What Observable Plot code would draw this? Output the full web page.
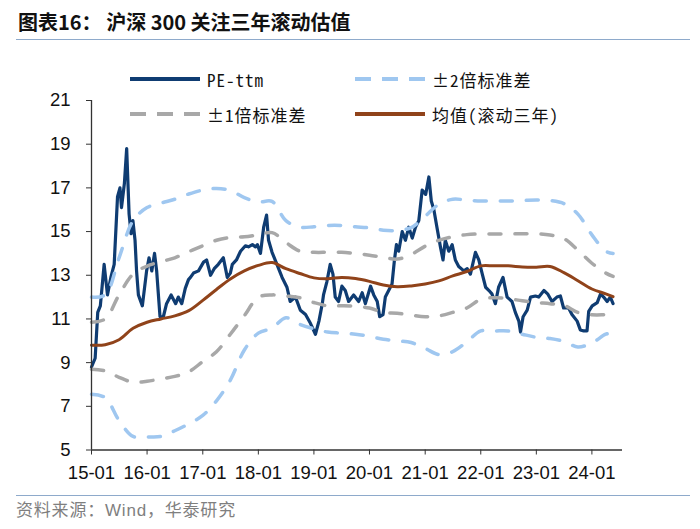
<!DOCTYPE html>
<html>
<head>
<meta charset="utf-8">
<script src="https://cdn.jsdelivr.net/npm/d3@7"></script>
<script src="https://cdn.jsdelivr.net/npm/@observablehq/plot@0.6"></script>
<style>
  body { margin: 0; background: #fff; }
  #wrap { position: relative; width: 700px; height: 529px; overflow: hidden; background: #fff; }
  #title { position: absolute; left: 18px; top: 7px; font-family: "Noto Sans CJK SC", sans-serif; font-weight: 700; font-size: 20px; line-height: 30px; color: #111; white-space: nowrap; }
  .rule { position: absolute; left: 16px; width: 674px; height: 0; border-top: 1.5px solid #8eaacb; }
  #chart { position: absolute; left: 0; top: 80px; }
  .leg { position: absolute; display: flex; align-items: center; height: 20px; white-space: nowrap;
         font-family: "Noto Sans Mono CJK SC", "DejaVu Sans Mono", "Noto Sans CJK SC", monospace; font-size: 17px; letter-spacing: 1px; color: #111; }
  .leg svg { margin-right: 7px; }
  #caption { position: absolute; left: 16px; top: 499px; font-family: "Liberation Sans", "Noto Sans CJK SC", sans-serif; font-size: 17px; line-height: 24px; color: #7f7f7f; letter-spacing: 0.8px; white-space: nowrap; }
</style>
</head>
<body>
<div id="wrap">
  <div id="title">图表16：&nbsp;沪深 300 关注三年滚动估值</div>
  <div class="rule" style="top:39px"></div>
  <div id="chart"></div>
  <div id="legend"></div>
  <div class="rule" style="top:495px"></div>
  <div id="caption">资料来源：Wind，华泰研究</div>
</div>
<script>
// ---------- data ----------
const peDates = ["2015-01-01","2015-01-25","2015-02-11","2015-02-28","2015-03-12","2015-03-25","2015-04-16","2015-05-08","2015-05-30","2015-06-21","2015-07-07","2015-07-17","2015-08-05","2015-08-20","2015-09-05","2015-09-18","2015-09-30","2015-10-14","2015-10-24","2015-11-05","2015-12-01","2015-12-29",
"2016-01-14","2016-02-01","2016-02-19","2016-03-04","2016-03-26","2016-04-17","2016-05-08","2016-06-07","2016-07-07","2016-07-24","2016-08-16","2016-09-08","2016-09-29","2016-10-12","2016-11-01","2016-12-04",
"2017-01-06","2017-01-26","2017-02-21","2017-03-17","2017-04-13","2017-05-16","2017-06-11","2017-07-01","2017-07-14","2017-08-10","2017-09-06","2017-10-08","2017-10-28","2017-11-23","2017-12-13","2017-12-26",
"2018-01-15","2018-02-05","2018-02-24","2018-03-09","2018-04-01","2018-05-03","2018-06-06","2018-07-08","2018-07-29","2018-09-02","2018-10-04","2018-11-07","2018-12-09",
"2019-01-11","2019-02-03","2019-02-25","2019-03-05","2019-03-27","2019-04-18","2019-05-06","2019-05-21","2019-06-12","2019-07-04","2019-07-26","2019-08-17","2019-09-19","2019-10-22","2019-11-14","2019-12-05",
"2020-01-08","2020-01-29","2020-02-21","2020-03-08","2020-03-30","2020-04-14","2020-05-06","2020-05-28","2020-06-13","2020-06-26","2020-07-11","2020-08-03","2020-08-24","2020-09-15","2020-10-08","2020-10-29","2020-11-20","2020-12-12",
"2021-01-04","2021-01-25","2021-02-10","2021-02-27","2021-03-19","2021-04-11","2021-04-28","2021-05-13","2021-06-05","2021-06-27","2021-07-18","2021-08-09","2021-09-12","2021-10-04","2021-10-25","2021-11-27","2021-12-19",
"2022-01-11","2022-02-02","2022-02-24","2022-03-15","2022-04-07","2022-04-28","2022-05-27","2022-06-23","2022-07-25","2022-08-16","2022-09-08","2022-09-19","2022-10-06","2022-11-02","2022-11-24","2022-12-26",
"2023-01-17","2023-02-20","2023-03-16","2023-04-14","2023-05-16","2023-06-08","2023-06-29","2023-08-01","2023-08-23","2023-09-26","2023-10-17","2023-11-09","2023-11-30","2023-12-11",
"2024-01-03","2024-02-05","2024-02-27","2024-03-18","2024-04-10","2024-05-01","2024-05-19"];
const peValues = [8.8,9.2,11.3,11.6,12.5,13.5,12.1,12.9,13.5,16.6,17.0,16.1,17.2,18.8,15.8,14.9,15.5,14.6,13.2,12.1,11.6,13.2,
13.8,13.2,14.0,13.2,11.1,11.1,11.7,12.1,11.7,12.0,11.7,12.4,12.8,12.9,13.1,13.2,
13.6,13.7,13.0,13.3,13.5,13.8,12.9,13.1,13.5,13.7,14.1,14.35,14.3,14.4,14.3,14.4,
14.0,15.2,15.75,14.6,14.05,13.5,12.9,12.45,11.8,12.0,11.4,11.2,10.8,
10.3,10.9,11.7,12.1,12.7,13.5,13.05,12.0,11.8,12.5,12.3,11.8,12.1,11.8,12.2,11.7,
12.5,12.1,11.8,11.1,11.2,12.0,12.3,12.6,13.7,14.4,14.1,15.0,14.6,15.2,14.7,15.2,15.5,16.9,
16.7,17.5,16.4,16.0,15.2,14.3,13.7,14.6,14.1,14.4,13.7,13.4,13.2,13.3,13.05,14.05,13.7,
13.05,12.45,12.3,12.15,11.7,12.45,12.9,12.0,11.8,11.3,10.9,10.4,11.1,11.4,12.0,12.05,
12.0,12.3,12.15,11.8,12.0,12.05,11.5,11.5,11.2,10.9,10.5,10.45,10.45,11.35,
11.6,11.75,12.15,12.0,11.8,12.0,11.7];

const bandDates = ["2015-01-01","2015-04-01","2015-07-01","2015-10-01",
"2016-01-01","2016-04-01","2016-07-01","2016-10-01",
"2017-01-01","2017-04-01","2017-07-01","2017-10-01",
"2018-01-01","2018-04-01","2018-07-01","2018-10-01",
"2019-01-01","2019-04-01","2019-07-01","2019-10-01",
"2020-01-01","2020-04-01","2020-07-01","2020-10-01",
"2021-01-01","2021-04-01","2021-07-01","2021-10-01",
"2022-01-01","2022-04-01","2022-07-01","2022-10-01",
"2023-01-01","2023-04-01","2023-07-01","2023-10-01",
"2024-01-01","2024-04-01","2024-05-19"];
const meanValues = [9.80,9.82,10.05,10.57,10.85,11.0,11.14,11.38,11.85,12.35,12.83,13.2,13.45,13.58,13.3,13.08,12.88,12.84,12.9,12.85,12.72,12.55,12.47,12.51,12.6,12.74,12.97,13.17,13.43,13.43,13.43,13.38,13.37,13.4,13.12,12.75,12.37,12.15,12.02];
const plus2Values = [12.0,12.1,13.8,15.5,16.1,16.3,16.48,16.72,16.9,16.97,16.88,16.55,16.35,16.38,15.5,15.2,15.22,15.28,15.28,15.22,15.17,15.06,15.05,15.18,15.7,16.25,16.48,16.44,16.4,16.4,16.4,16.42,16.45,16.42,16.28,15.8,14.85,14.1,14.0];
const plus1Values = [10.85,11.0,12.1,13.05,13.42,13.62,13.8,14.08,14.35,14.6,14.73,14.76,14.85,14.95,14.5,14.1,14.05,14.05,14.05,14.0,13.92,13.82,13.74,13.95,14.33,14.6,14.76,14.86,14.89,14.89,14.89,14.9,14.9,14.84,14.68,14.15,13.55,13.1,12.95];
const minus1Values = [8.7,8.62,8.33,8.1,8.15,8.25,8.37,8.58,9.05,9.5,10.3,11.15,11.99,12.1,12.05,11.97,11.75,11.6,11.6,11.58,11.5,11.3,11.26,11.17,11.1,11.14,11.3,11.5,11.9,11.97,11.93,11.83,11.75,11.7,11.62,11.3,11.19,11.19,11.19];
const minus2Values = [7.55,7.4,6.35,5.62,5.6,5.62,5.88,6.2,6.58,7.25,8.2,9.58,10.35,10.58,11.05,10.75,10.55,10.4,10.35,10.3,10.2,10.07,10.0,9.92,9.65,9.37,9.5,9.95,10.45,10.45,10.45,10.3,10.16,10.1,9.97,9.72,9.9,10.3,10.38];

const yTicks = [5,7,9,11,13,15,17,19,21];
const xTicks = ["2015-01-01","2016-01-01","2017-01-01","2018-01-01","2019-01-01","2020-01-01","2021-01-01","2022-01-01","2023-01-01","2024-01-01"];
const xDomain = ["2015-01-01","2024-07-20"];
const seriesLabels = ["PE-ttm","±2倍标准差","±1倍标准差","均值(滚动三年)"];

// ---------- build ----------
const parse = d3.utcParse("%Y-%m-%d");
const pe = peDates.map((d,i) => ({date: parse(d), value: peValues[i]}));
const band = bandDates.map((d,i) => ({date: parse(d), mean: meanValues[i], p2: plus2Values[i], p1: plus1Values[i], m1: minus1Values[i], m2: minus2Values[i]}));

const C = {pe: "#0f3c72", blue: "#9fc7f0", gray: "#a8a8a8", brown: "#90431a", axis: "#333"};
const dashStyle = {strokeWidth: 3.5, strokeDasharray: "12,14", strokeLinecap: "round", curve: "catmull-rom"};

const chart = Plot.plot({
  width: 700, height: 410,
  marginLeft: 91, marginRight: 78, marginTop: 20, marginBottom: 40.5,
  x: {type: "utc", domain: xDomain.map(parse)},
  y: {domain: [5, 21]},
  style: {fontFamily: "'Liberation Sans', Arial, sans-serif", fontSize: "18.5px", color: "#111", background: "transparent", overflow: "visible"},
  marks: [
    Plot.lineY(pe, {x: "date", y: "value", stroke: C.pe, strokeWidth: 3.2, strokeLinejoin: "round"}),
    Plot.lineY(band, {x: "date", y: "p2", stroke: C.blue, ...dashStyle}),
    Plot.lineY(band, {x: "date", y: "m2", stroke: C.blue, ...dashStyle}),
    Plot.lineY(band, {x: "date", y: "p1", stroke: C.gray, ...dashStyle}),
    Plot.lineY(band, {x: "date", y: "m1", stroke: C.gray, ...dashStyle}),
    Plot.lineY(band, {x: "date", y: "mean", stroke: C.brown, strokeWidth: 3, curve: "catmull-rom"}),
    Plot.ruleY([5], {stroke: C.axis, strokeWidth: 1.3}),
    Plot.ruleX([parse(xDomain[0])], {stroke: C.axis, strokeWidth: 1.3}),
    Plot.axisY({ticks: yTicks, tickSize: 5, tickPadding: 16, label: null, stroke: C.axis}),
    Plot.axisX({ticks: xTicks.map(parse), tickFormat: d3.utcFormat("%y-%m"), tickSize: 5, tickPadding: 11, label: null, stroke: C.axis})
  ]
});
document.getElementById("chart").appendChild(chart);

// ---------- legend ----------
const legendItems = [
  {label: seriesLabels[0], color: C.pe, dash: null, left: 130, top: 79},
  {label: seriesLabels[1], color: C.blue, dash: "16,11", left: 355, top: 79},
  {label: seriesLabels[2], color: C.gray, dash: "16,11", left: 130, top: 114},
  {label: seriesLabels[3], color: C.brown, dash: null, left: 355, top: 114}
];
const legend = document.getElementById("legend");
legendItems.forEach(it => {
  const div = document.createElement("div");
  div.className = "leg";
  div.style.left = it.left + "px";
  div.style.top = (it.top - 10) + "px";
  div.innerHTML = `<svg width="70" height="10"><line x1="0" x2="70" y1="5" y2="5" stroke="${it.color}" stroke-width="4" ${it.dash ? `stroke-dasharray="${it.dash}"` : ""}/></svg><span>${it.label}</span>`;
  legend.appendChild(div);
});
</script>
</body>
</html>
